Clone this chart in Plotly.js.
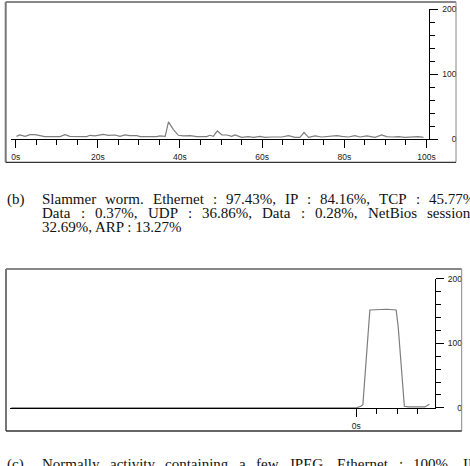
<!DOCTYPE html>
<html>
<head>
<meta charset="utf-8">
<script src="https://cdn.plot.ly/plotly-3.0.1.min.js"></script>
<style>
  html, body { margin: 0; padding: 0; background: #fff; }
  #chart { width: 470px; height: 466px; }
</style>
</head>
<body>
<div id="chart"></div>
<script>
// ---- Data ----
// Panel (top): Slammer worm traffic, packets per time unit vs seconds
const topSeconds = [0.2, 1, 2.3, 3.5, 4.7, 5.9, 7.1, 10.8, 12, 13.2, 15.7, 17.3, 18.1, 19.3, 21.3, 22.6, 24.2, 25.4, 26.6, 27.8, 29.5, 30.3, 34.3, 35.1, 36.4, 37.2, 38.4, 39.6, 40.8, 42.5, 44.1, 46.5, 47.3, 48.1, 49.1, 50.2, 51.4, 52.6, 53.4, 55, 56.6, 57.9, 59.5, 60.7, 62.3, 64.8, 66.4, 68, 69.2, 70.2, 71.3, 72.9, 74.5, 76.1, 78.2, 79.4, 81, 82.6, 83.8, 85.5, 87.5, 89.1, 90.3, 91.6, 93.2, 94.8, 96.4, 98, 99.3];
const topPackets = [4.1, 6.2, 4.1, 6.7, 6.7, 5.2, 3.6, 3.6, 6.7, 4.1, 3.6, 3.6, 5.7, 4.7, 7.2, 5.7, 6.2, 4.1, 6.2, 5.2, 5.2, 3.6, 3.6, 4.7, 4.1, 26.4, 14.5, 5.7, 4.7, 5.2, 3.6, 3.6, 5.7, 4.1, 12.4, 6.2, 6.2, 4.1, 6.2, 2.6, 3.6, 2.6, 4.1, 2.6, 3.1, 3.1, 5.2, 2.6, 2.6, 10.3, 2.6, 4.7, 3.1, 3.6, 5.2, 4.1, 3.1, 5.2, 3.1, 4.7, 2.6, 6.2, 3.6, 3.1, 3.6, 2.6, 3.1, 3.6, 2.6];
// Panel (bottom): normal activity
const bottomSeconds = [-84, 0, 1.1, 1.6, 3.3, 5.4, 7.4, 9.7, 10.2, 11.7, 12.7, 16.7, 17.8];
const bottomPackets = [0, 0, 2.6, 5, 151.7, 152, 152.8, 151.7, 125.8, 2.6, 1.5, 1.5, 5.7];

// Tick labels
const topXTickVals = [0, 20, 40, 60, 80, 100];
const bottomXTickVals = [0];
const bottomXTickText = ['0s'];
const bottomXMinorVals = [5, 10, 15];
const yTickVals = [0, 100, 200];
const yTickText = ['0', '100', '200'];

// Captions
const captionBLabel = '(b)';
const captionBLine1 = ['Slammer', 'worm.', 'Ethernet', ':', '97.43%,', 'IP', ':', '84.16%,', 'TCP', ':', '45.77%'];
const captionBLine2 = ['Data', ':', '0.37%,', 'UDP', ':', '36.86%,', 'Data', ':', '0.28%,', 'NetBios', 'session'];
const captionBLine3 = '32.69%, ARP : 13.27%';
const captionCLabel = '(c)';
const captionCLine1 = ['Normally', 'activity', 'containing', 'a', 'few', 'JPEG,', 'Ethernet', ':', '100%,', 'IP'];

// ---- Layout helpers (pixel -> paper) ----
const W = 470, H = 466;
const fx = p => p / W;
const fy = p => 1 - p / H;

const serifSize = 15;
const serifFamily = 'Liberation Serif, Times New Roman, serif';
const cv = document.createElement('canvas').getContext('2d');
cv.font = serifSize + 'px "Liberation Serif"';
const measure = t => cv.measureText(t).width;

const annotations = [];
function addText(text, xPx, yPx) {
  annotations.push({
    text: text, xref: 'paper', yref: 'paper', x: fx(xPx), y: fy(yPx),
    xanchor: 'left', yanchor: 'middle', showarrow: false,
    borderpad: 0, borderwidth: 0,
    font: { family: serifFamily, size: serifSize, color: '#111' }
  });
}
function justify(words, left, rightEnd, yPx) {
  const ws = words.map(measure);
  const total = ws.reduce((a, b) => a + b, 0);
  const gap = (rightEnd - left - total) / (words.length - 1);
  let pos = left;
  words.forEach((w, i) => { addText(w, pos, yPx); pos += ws[i] + gap; });
}

addText(captionBLabel, 6.7, 199);
justify(captionBLine1, 42.3, 475, 199);
justify(captionBLine2, 42.3, 470.5, 213);
addText(captionBLine3, 42.3, 227.4);
addText(captionCLabel, 7, 464);
justify(captionCLine1, 41.7, 476, 464);

// Panel frames
const shapes = [];
function frame(l, t, r, b) {
  shapes.push({ type: 'line', xref: 'paper', yref: 'paper', x0: fx(l), x1: fx(r), y0: fy(t), y1: fy(t), line: { color: '#111', width: 1 } });
  shapes.push({ type: 'line', xref: 'paper', yref: 'paper', x0: fx(l), x1: fx(l), y0: fy(t), y1: fy(b), line: { color: '#777', width: 2 } });
  shapes.push({ type: 'line', xref: 'paper', yref: 'paper', x0: fx(r), x1: fx(r), y0: fy(t), y1: fy(b), line: { color: '#888', width: 1 } });
  shapes.push({ type: 'line', xref: 'paper', yref: 'paper', x0: fx(l), x1: fx(r), y0: fy(b), y1: fy(b), line: { color: '#333', width: 1.3 } });
}
frame(5.7, 2, 456, 162.3);
frame(6, 269, 461.7, 431);

const tickFont = { family: 'Liberation Sans, Arial, sans-serif', size: 8.5, color: '#222' };

const traces = [
  { x: topSeconds, y: topPackets, xaxis: 'x', yaxis: 'y', type: 'scatter', mode: 'lines',
    line: { color: '#7d7d7d', width: 1.2 }, hoverinfo: 'skip' },
  { x: [], y: [], xaxis: 'x', yaxis: 'y3', type: 'scatter', mode: 'lines', hoverinfo: 'skip' },
  { x: bottomSeconds, y: bottomPackets, xaxis: 'x2', yaxis: 'y2', type: 'scatter', mode: 'lines',
    line: { color: '#7d7d7d', width: 1.2 }, hoverinfo: 'skip' },
  { x: [], y: [], xaxis: 'x2', yaxis: 'y4', type: 'scatter', mode: 'lines', hoverinfo: 'skip' }
];

const topXDomain = [fx(11), fx(429.3)];
const topYDomain = [fy(139), fy(9.3)];
const botXDomain = [fx(10), fx(435)];
const botYDomain = [fy(407.9), fy(278.8)];

const layout = {
  width: W, height: H,
  margin: { l: 0, r: 0, t: 0, b: 0, pad: 0 },
  paper_bgcolor: '#fff', plot_bgcolor: 'rgba(0,0,0,0)',
  showlegend: false,
  xaxis: {
    domain: topXDomain, range: [-1.14, 100.7], anchor: 'y3',
    showline: true, linecolor: '#000', linewidth: 1, showgrid: false, zeroline: false,
    tickmode: 'array', tickvals: topXTickVals, ticktext: topXTickVals.map(v => v + 's'),
    ticks: 'outside', ticklen: 8, tickcolor: '#000', tickwidth: 1,
    minor: { ticks: 'outside', ticklen: 5, dtick: 5, tick0: 0, tickcolor: '#000', tickwidth: 1, showgrid: false },
    tickfont: tickFont, ticklabelstandoff: 2, fixedrange: true
  },
  yaxis: {
    domain: topYDomain, range: [0, 200], anchor: 'free', position: fx(456.5), side: 'left',
    showline: false, showgrid: false, zeroline: false, ticks: '',
    tickmode: 'array', tickvals: yTickVals, ticktext: yTickText, tickfont: tickFont, fixedrange: true
  },
  yaxis3: {
    overlaying: 'y', range: [0, 200], anchor: 'x', side: 'right',
    showline: true, linecolor: '#000', linewidth: 1, showgrid: false, zeroline: false,
    tickmode: 'array', tickvals: yTickVals, showticklabels: false,
    ticks: 'outside', ticklen: 8, tickcolor: '#000', tickwidth: 1,
    minor: { ticks: 'outside', ticklen: 5, dtick: 20, tick0: 0, tickcolor: '#000', tickwidth: 1, showgrid: false },
    fixedrange: true
  },
  xaxis2: {
    domain: botXDomain, range: [-84.32, 19.16], anchor: 'y4',
    showline: true, linecolor: '#000', linewidth: 1, showgrid: false, zeroline: false,
    tickmode: 'array', tickvals: bottomXTickVals, ticktext: bottomXTickText,
    ticks: 'outside', ticklen: 8, tickcolor: '#000', tickwidth: 1,
    minor: { ticks: 'outside', ticklen: 5, tickmode: 'array', tickvals: bottomXMinorVals, tickcolor: '#000', tickwidth: 1, showgrid: false },
    tickfont: tickFont, ticklabelstandoff: 2, fixedrange: true
  },
  yaxis2: {
    domain: botYDomain, range: [0, 200], anchor: 'free', position: fx(462), side: 'left',
    showline: false, showgrid: false, zeroline: false, ticks: '',
    tickmode: 'array', tickvals: yTickVals, ticktext: yTickText, tickfont: tickFont, fixedrange: true
  },
  yaxis4: {
    overlaying: 'y2', range: [0, 200], anchor: 'x2', side: 'right',
    showline: true, linecolor: '#000', linewidth: 1, showgrid: false, zeroline: false,
    tickmode: 'array', tickvals: yTickVals, showticklabels: false,
    ticks: 'outside', ticklen: 8, tickcolor: '#000', tickwidth: 1,
    minor: { ticks: 'outside', ticklen: 5, dtick: 20, tick0: 0, tickcolor: '#000', tickwidth: 1, showgrid: false },
    fixedrange: true
  },
  shapes: shapes,
  annotations: annotations
};

Plotly.newPlot('chart', traces, layout, { staticPlot: true, displayModeBar: false });
</script>
</body>
</html>
